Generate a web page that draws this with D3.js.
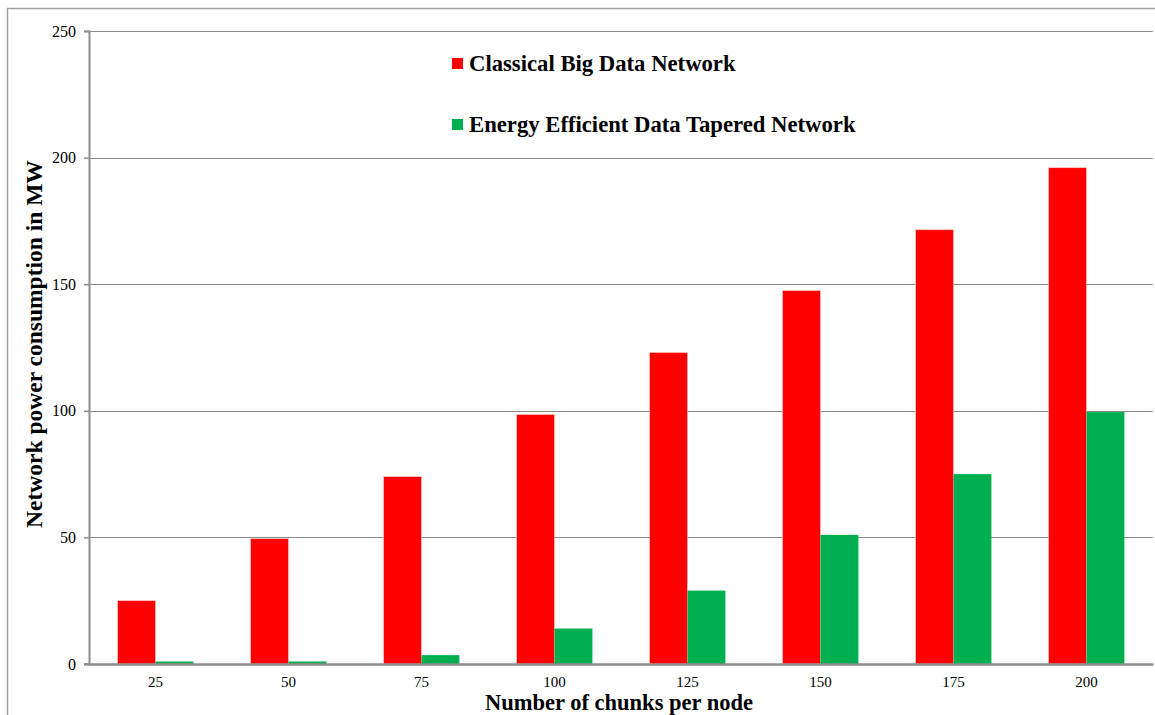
<!DOCTYPE html>
<html><head><meta charset="utf-8">
<script src="https://cdn.jsdelivr.net/npm/d3@7"></script>
<style>body{margin:0;background:#fff}svg{display:block}</style>
</head><body>
<script>
const categories = ["25","50","75","100","125","150","175","200"];
const classical = [25, 49.5, 74, 98.5, 123, 147.5, 171.5, 196];
const tapered = [1, 1, 3.5, 14, 29, 51, 75, 99.5];
const seriesNames = ["Classical Big Data Network", "Energy Efficient Data Tapered Network"];
const yTicks = [0, 50, 100, 150, 200, 250];

const W = 1155, H = 715;
const m = {left: 89, right: 2, top: 31, bottom: 51};
const svg = d3.select("body").append("svg").attr("width", W).attr("height", H);
const font = "'Liberation Serif','Times New Roman',serif";

// outer frame
svg.append("line").attr("x1",7).attr("x2",W).attr("y1",8.5).attr("y2",8.5).attr("stroke","#a0a0a0").attr("stroke-width",1.5);
svg.append("line").attr("x1",7.5).attr("x2",7.5).attr("y1",8).attr("y2",H).attr("stroke","#a0a0a0").attr("stroke-width",1.5);

const x = d3.scaleBand().domain(categories).range([m.left, W - m.right]).paddingInner(0.43).paddingOuter(0.215);
const xs = d3.scaleBand().domain([0,1]).range([0, x.bandwidth()]);
const y = d3.scaleLinear().domain([0, 250]).range([H - m.bottom, m.top]);

// gridlines
svg.append("g").selectAll("line").data(yTicks.filter(d=>d>0)).join("line")
  .attr("x1", m.left).attr("x2", W - m.right)
  .attr("y1", d => Math.round(y(d))+0.5).attr("y2", d => Math.round(y(d))+0.5)
  .attr("stroke", "#8c8c8c").attr("stroke-width", 1);

// bars
const colors = ["#ff0000", "#00b050"];
const data = [classical, tapered];
const g = svg.append("g");
categories.forEach((c, i) => {
  data.forEach((s, j) => {
    g.append("rect")
      .attr("x", x(c) + xs(j)).attr("width", xs.bandwidth())
      .attr("y", y(s[i])).attr("height", y(0) - y(s[i]))
      .attr("fill", colors[j]).attr("stroke", "#ffc8c8").attr("stroke-width", j===0?0.6:0);
  });
});

// y axis
const yAxis = d3.axisLeft(y).tickValues(yTicks).tickSize(5).tickPadding(8);
const ya = svg.append("g").attr("transform", `translate(${m.left},0)`).call(yAxis);
ya.select(".domain").attr("stroke", "#8c8c8c").attr("stroke-width", 2);
ya.selectAll(".tick line").attr("stroke", "#8c8c8c").attr("stroke-width", 1.5);
ya.selectAll("text").attr("font-family", font).attr("font-size", 16).attr("fill", "#000");

// x axis
const xAxis = d3.axisBottom(x).tickSize(0).tickPadding(12);
const xa = svg.append("g").attr("transform", `translate(0,${y(0)})`).call(xAxis);
xa.select(".domain").attr("stroke", "#8c8c8c").attr("stroke-width", 2.5);
xa.selectAll("text").attr("font-family", font).attr("font-size", 15).attr("fill", "#000");
svg.append("line").attr("x1", m.left-5).attr("x2", m.left).attr("y1", y(0)).attr("y2", y(0)).attr("stroke","#8c8c8c").attr("stroke-width",2);

// titles
svg.append("text").attr("x", 619).attr("y", 710).attr("text-anchor","middle")
  .attr("font-family", font).attr("font-weight","bold").attr("font-size", 22.5).text("Number of chunks per node");
svg.append("text").attr("transform", "translate(42,344) rotate(-90)").attr("text-anchor","middle")
  .attr("font-family", font).attr("font-weight","bold").attr("font-size", 23.5).text("Network power consumption in MW");

// legend
const lg = svg.append("g");
seriesNames.forEach((n, j) => {
  const ly = 64 + j * 61;
  lg.append("rect").attr("x", 452).attr("y", ly - 6).attr("width", 11).attr("height", 11).attr("fill", colors[j]);
  lg.append("text").attr("x", 469).attr("y", ly + 7).attr("font-family", font).attr("font-weight","bold")
    .attr("font-size", 22.7).text(n);
});
</script>
</body></html>
